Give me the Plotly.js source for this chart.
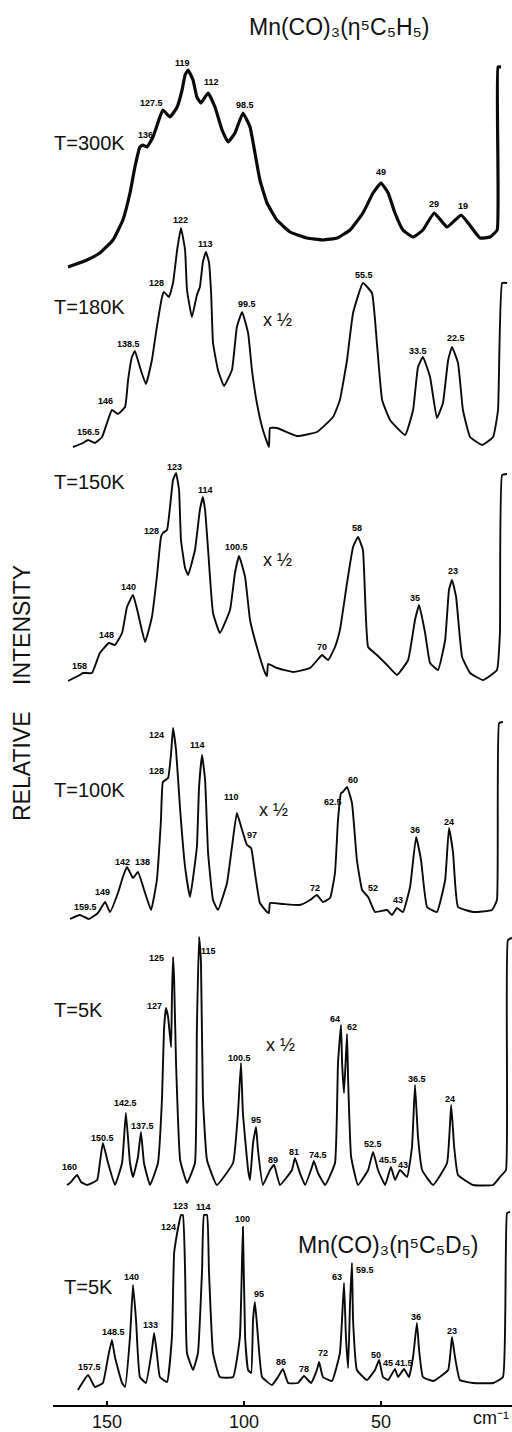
<!DOCTYPE html>
<html>
<head>
<meta charset="utf-8">
<script src="https://cdn.plot.ly/plotly-3.0.1.min.js"></script>
<style>html,body{margin:0;padding:0;background:#fff;}#chart{width:512px;height:1432px;}</style>
</head>
<body>
<div id="chart"></div>
<script>
// ---------- DATA (wavenumber in cm-1, relative intensity in arbitrary units) ----------
const panelNames = ["T=300K", "T=180K", "T=150K", "T=100K", "T=5K", "T=5K"];

const wn300 = [164.2,157.3,152.6,147.8,144.2,141.6,139.8,138.0,136.9,135.4,133.2,130.7,129.6,127.0,124.4,122.6,121.5,120.4,118.6,117.2,115.7,113.1,110.6,108.0,105.8,103.3,100.4,97.8,96.0,94.2,91.6,88.0,83.2,77.0,71.2,66.0,61.3,56.6,52.9,50.0,47.4,44.9,42.0,38.3,34.7,30.6,25.9,20.8,18.2,13.9,10.2,7.6,7.3,6.2];
const int300 = [1,8,15,28,48,75,101,121,123,121,131,151,158,151,161,178,193,198,188,171,165,175,161,138,126,135,155,141,115,88,65,48,36,30,28,30,38,55,75,85,75,55,38,31,38,55,41,53,45,30,31,38,201,201];

const wn180 = [162.4,158.8,156.9,154.4,151.8,150.0,148.2,146.0,143.4,142.3,140.9,139.8,138.0,135.8,133.6,131.8,129.9,129.2,127.4,125.9,124.4,123.0,121.5,120.8,119.0,117.2,116.1,115.0,113.9,112.8,112.0,111.3,109.5,107.3,104.4,102.6,100.7,98.5,97.1,95.3,93.1,90.9,90.5,88.0,80.7,73.4,67.5,65.0,62.4,60.2,56.6,53.3,51.5,49.6,46.7,41.2,38.3,36.5,34.7,32.1,29.6,27.4,25.5,24.1,21.9,20.1,17.5,13.1,9.1,7.3,5.8,4.0];
const int180 = [0,4,7,4,10,24,37,33,40,67,90,96,80,63,87,120,150,155,150,164,197,219,197,157,130,152,160,185,195,185,154,104,77,61,77,120,135,114,77,44,17,0,19,19,11,15,30,47,87,134,164,154,104,47,27,12,37,80,90,70,29,44,87,100,84,37,10,2,10,37,164,164];

const wn150 = [164.2,159.9,158.8,155.5,152.6,149.3,147.1,144.5,142.7,140.5,138.7,136.1,133.6,131.8,130.3,129.6,128.1,127.0,125.9,124.8,123.7,123.0,121.5,120.4,117.9,116.1,115.0,114.2,113.1,111.3,108.8,105.1,103.3,101.8,99.6,97.8,95.3,92.3,91.6,91.2,88.0,82.1,75.9,72.3,71.5,69.3,66.8,65.0,62.4,60.2,58.4,56.6,54.7,51.5,47.8,44.2,40.1,37.6,36.1,33.9,32.1,29.2,26.6,25.2,24.1,22.6,20.4,17.5,12.8,7.7,6.6,5.8,4.0];
const int150 = [0,6,8,8,28,38,36,48,74,86,68,39,64,104,144,148,151,174,201,208,191,141,113,106,131,171,184,171,131,68,48,71,108,125,104,61,34,8,5,17,13,9,13,24,26,21,34,51,98,134,144,131,34,26,16,6,21,61,76,48,18,11,41,91,101,84,24,8,1,11,48,206,207];

const wn100 = [163.5,159.9,156.6,153.3,150.7,148.9,146.0,144.2,142.7,140.5,138.7,136.1,133.9,131.8,130.3,129.6,127.7,126.6,125.9,124.8,123.3,121.5,119.7,117.2,116.4,115.3,114.2,113.1,111.3,109.5,106.2,104.4,102.6,100.7,98.9,97.4,96.0,94.2,91.6,90.9,90.5,85.8,79.6,75.9,73.4,71.2,68.6,66.8,65.7,64.6,63.9,62.4,60.6,58.8,56.9,54.7,52.2,47.8,46.0,44.2,42.0,39.4,37.2,35.4,33.2,29.6,26.6,25.2,23.7,21.9,16.4,9.5,7.7,6.9,5.5];
const int100 = [0,4,0,6,17,7,26,42,52,41,47,26,9,39,99,137,141,166,191,169,109,52,22,72,132,164,139,66,19,9,36,72,106,89,74,71,46,16,7,6,16,15,14,19,24,17,21,46,99,126,127,132,116,59,29,22,7,9,4,11,7,32,82,59,12,7,39,91,66,12,7,9,19,196,197];

const wn5H = [164.6,163.5,160.9,159.5,157.3,153.6,152.6,151.5,149.6,147.1,144.5,143.1,141.6,140.5,138.7,137.6,136.5,134.3,131.4,129.9,129.2,128.5,127.7,126.6,126.3,125.9,125.5,124.8,123.3,120.8,117.9,117.2,116.4,115.7,115.0,113.5,109.9,104.0,102.2,101.1,100.4,98.5,97.8,96.7,95.6,94.9,93.1,90.5,89.0,86.9,82.5,81.4,79.6,77.7,75.2,74.5,73.0,70.4,66.8,65.7,64.6,64.2,63.5,62.4,62.0,60.9,58.4,54.7,52.9,51.1,48.5,46.4,44.9,43.1,40.5,38.7,37.6,36.5,35.0,31.0,25.9,24.4,23.3,21.9,16.4,9.1,6.6,4.4,3.7,2.2];
const int5H = [0,2,10,3,0,5,22,42,22,0,22,72,22,8,28,53,22,0,22,88,155,177,168,138,188,228,205,122,25,2,22,155,248,222,88,25,0,22,72,122,72,15,5,42,58,35,0,15,20,0,15,27,12,0,18,24,12,0,22,122,160,122,92,151,105,28,0,15,33,15,0,18,5,15,8,38,100,48,15,0,22,80,38,10,0,0,8,15,245,247];

const wn5D = [160.6,156.9,154.4,151.5,149.6,148.2,147.1,144.5,143.4,141.6,140.5,139.4,138.0,135.8,133.6,132.8,131.8,130.7,128.1,126.3,125.5,124.4,123.7,123.0,122.3,121.5,120.8,118.6,116.8,115.3,114.6,113.5,112.8,111.3,108.8,104.0,101.5,100.4,99.6,98.5,97.4,96.7,96.0,94.9,93.4,89.8,87.6,85.8,83.9,80.3,78.1,75.5,73.4,72.6,71.2,67.9,65.0,63.5,62.8,62.0,61.3,60.6,60.2,58.8,55.1,52.2,50.7,49.3,47.4,44.9,43.8,41.6,39.8,38.3,36.9,36.1,34.7,31.0,25.5,24.1,23.0,21.2,16.4,9.1,5.5,4.0,2.9];
const int5D = [0,15,3,7,33,50,33,7,3,53,105,70,13,7,40,57,37,13,8,53,137,157,167,175,175,120,37,20,37,120,175,175,120,37,13,13,53,163,53,20,17,70,88,53,13,5,13,21,7,7,14,7,20,28,13,9,37,107,53,22,87,127,70,20,10,20,30,13,10,21,13,21,13,33,67,40,13,9,20,53,33,10,7,7,13,177,178];

// peak labels: text, wavenumber position, intensity position
const lab300 = ["136","127.5","119","112","98.5","49","29","19"];
const labX300 = [135.8,133.6,122.3,111.7,99.6,50.0,30.6,20.1];
const labY300 = [133,165,205,186,163,96,64,62];

const lab180 = ["156.5","146","138.5","128","122","113","99.5","55.5","33.5","22.5"];
const labX180 = [156.9,150.7,142.0,131.8,123.0,113.9,98.9,56.2,36.5,22.6];
const labY180 = [15,46,103,164,227,203,143,172,96,109];

const lab150 = ["158","148","140","128","123","114","100.5","70","58","35","23"];
const labX150 = [159.9,150.0,142.3,133.6,125.2,114.2,102.6,71.5,58.8,37.6,23.7];
const labY150 = [15,46,94,150,214,191,134,34,153,83,110];

const lab100 = ["159.5","149","142","138","128","124","114","110","97","72","62.5","60","52","43","36","24"];
const labX100 = [158.0,151.5,144.2,136.9,131.8,131.8,116.8,104.4,97.1,74.1,67.5,60.2,52.9,43.8,37.6,25.2];
const labY100 = [12,27,57,57,148,184,174,122,84,31,117,139,31,19,89,97];

const lab5H = ["160","150.5","142.5","137.5","127","125","115","100.5","95","89","81","74.5","64","62","52.5","45.5","43","36.5","24"];
const labX5H = [163.5,151.5,143.4,136.9,132.8,131.8,113.1,101.5,95.6,89.4,81.7,73.0,66.8,60.6,52.9,47.4,42.0,36.9,24.8];
const labY5H = [18,47,82,59,179,227,234,127,65,25,33,30,166,158,41,25,20,106,86];

const lab5D = ["157.5","148.5","140","133","124","123","114","100","95","86","78","72","63","59.5","50","45","41.5","36","23"];
const labX5D = [156.2,147.8,141.2,134.3,127.7,123.3,114.6,100.7,94.5,86.5,78.1,71.2,66.1,55.8,51.8,47.4,41.6,37.2,24.1];
const labY5D = [23,58,113,65,163,184,183,171,96,28,21,37,113,120,35,27,27,73,59];

const xTicks = [150, 100, 50];

// ---------- LAYOUT CONSTANTS ----------
const W = 512, H = 1432, ML = 53, MB = 27, PH = H - MB, PW = W - ML;
const panelBase = [268, 447, 681, 919, 1185, 1390]; // pixel row of zero intensity
const yLo = -8, yHi = 255;
const lineW = [3.2, 1.9, 1.9, 1.9, 1.9, 1.9];
const xHalfPos = [[277,320],[277,560],[273,810],[280,1045]];
const tLabelPos = [[52,143],[52,307],[52,482],[52,790],[52,1010],[62,1287]];
const FONT = "Liberation Sans, Arial, sans-serif";

const series = [
  [wn300, int300, lab300, labX300, labY300],
  [wn180, int180, lab180, labX180, labY180],
  [wn150, int150, lab150, labX150, labY150],
  [wn100, int100, lab100, labX100, labY100],
  [wn5H, int5H, lab5H, labX5H, labY5H],
  [wn5D, int5D, lab5D, labX5D, labY5D]
];

function px(x, y) { return { x: (x - ML) / PW, y: (PH - y) / PH }; }

const traces = [];
const annotations = [];
const layout = {
  width: W, height: H,
  margin: { l: ML, r: 0, t: 0, b: MB, pad: 0 },
  paper_bgcolor: "#fff", plot_bgcolor: "rgba(0,0,0,0)",
  showlegend: false,
  font: { family: FONT, color: "#000" },
  xaxis: {
    range: [169.7, 2.2], anchor: "free", position: 0,
    showgrid: false, zeroline: false, showline: true, linecolor: "#000", linewidth: 1.5,
    ticks: "inside", ticklen: 4, tickwidth: 1.2, tickcolor: "#000",
    tickvals: xTicks, ticktext: xTicks.map(String),
    tickfont: { family: FONT, size: 18, color: "#111" }
  },
  annotations: annotations
};

series.forEach((s, i) => {
  const k = i === 0 ? "" : String(i + 1);
  const B = panelBase[i];
  layout["yaxis" + k] = {
    domain: [(PH - B + yLo) / PH, (PH - B + yHi) / PH],
    range: [yLo, yHi], visible: false, showgrid: false, zeroline: false,
    anchor: "x", fixedrange: true
  };
  traces.push({
    x: s[0], y: s[1], xaxis: "x", yaxis: "y" + k,
    type: "scatter", mode: "lines", hoverinfo: "skip",
    line: { color: "#0a0a0a", width: lineW[i], shape: "spline", smoothing: 0.35 }
  });
  s[2].forEach((t, j) => {
    annotations.push({
      text: t, x: s[3][j], y: s[4][j], xref: "x", yref: "y" + k,
      showarrow: false, xanchor: "center", yanchor: "middle",
      font: { family: FONT, size: 9, color: "#000", weight: "bold" }
    });
  });
  const tp = px(tLabelPos[i][0], tLabelPos[i][1]);
  annotations.push({
    text: panelNames[i], x: tp.x, y: tp.y, xref: "paper", yref: "paper",
    showarrow: false, xanchor: "left", yanchor: "middle",
    font: { family: FONT, size: 20, color: "#111" }
  });
});

xHalfPos.forEach(p => {
  const q = px(p[0], p[1]);
  annotations.push({ text: "x ½", x: q.x, y: q.y, xref: "paper", yref: "paper",
    showarrow: false, xanchor: "center", yanchor: "middle",
    font: { family: FONT, size: 18, color: "#111" } });
});

function addText(text, x, y, size, opts) {
  const q = px(x, y);
  annotations.push(Object.assign({ text: text, x: q.x, y: q.y, xref: "paper", yref: "paper",
    showarrow: false, xanchor: "center", yanchor: "middle",
    font: { family: FONT, size: size, color: "#111" } }, opts || {}));
}
addText("Mn(CO)₃(η⁵C₅H₅)", 339, 27, 23);
addText("Mn(CO)₃(η⁵C₅D₅)", 388, 1245, 23);
addText("INTENSITY", 22, 625, 23, { textangle: -90 });
addText("RELATIVE", 22, 766, 23, { textangle: -90 });
addText("cm⁻¹", 511, 1418, 18, { xanchor: "right" });

Plotly.newPlot("chart", traces, layout, { displayModeBar: false, staticPlot: true });
</script>
</body>
</html>
